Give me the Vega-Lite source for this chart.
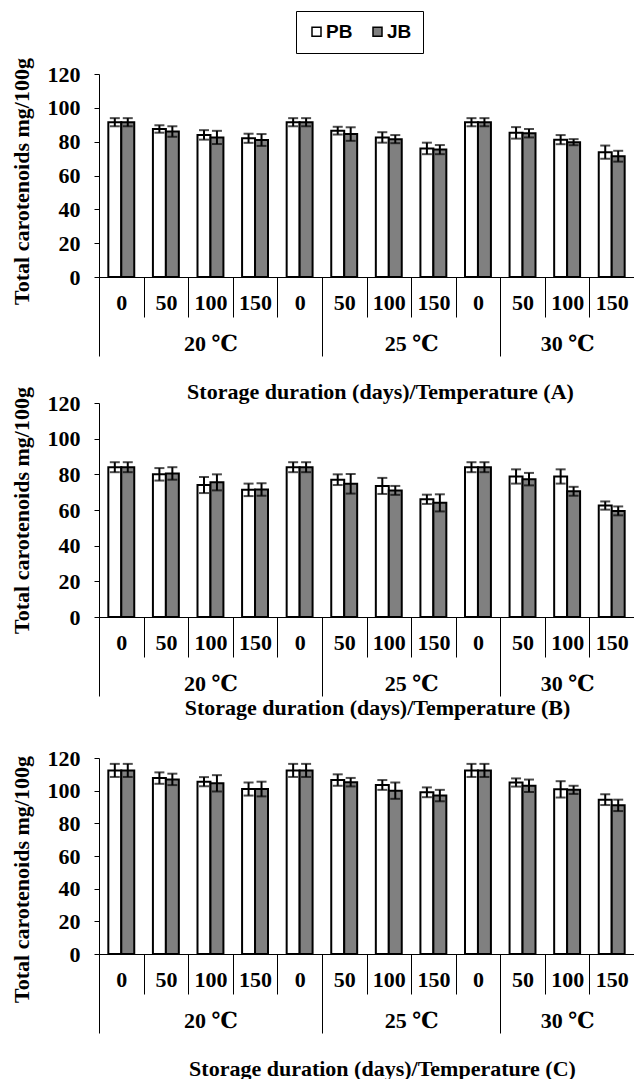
{
  "$schema": "https://vega.github.io/schema/vega-lite/v6.json",
  "padding": {"left": 9, "top": 10, "right": 0, "bottom": 0},
  "background": "white",
  "config": {
    "view": {"stroke": null},
    "axis": {
      "labelFont": "Liberation Serif, DejaVu Serif", "labelFontWeight": "bold", "labelFontSize": 22, "labelColor": "black",
      "titleFont": "Liberation Serif", "titleFontWeight": "bold", "titleFontSize": 22, "titleColor": "black",
      "domainColor": "black", "tickColor": "black", "grid": false, "labelOverlap": false
    },
    "axisY": {"labelOverlap": false, "labelSeparation": 0}
  },
  "datasets": {
    "A": [
      {"cat": "20 ℃|0", "series": "PB", "value": 91.5, "lo": 89.1, "hi": 93.9},
      {"cat": "20 ℃|0", "series": "JB", "value": 91.5, "lo": 89.1, "hi": 93.9},
      {"cat": "20 ℃|50", "series": "PB", "value": 87.5, "lo": 85.3, "hi": 89.7},
      {"cat": "20 ℃|50", "series": "JB", "value": 86, "lo": 82.9, "hi": 89.1},
      {"cat": "20 ℃|100", "series": "PB", "value": 84, "lo": 81.2, "hi": 86.8},
      {"cat": "20 ℃|100", "series": "JB", "value": 82.5, "lo": 78.6, "hi": 86.4},
      {"cat": "20 ℃|150", "series": "PB", "value": 82, "lo": 79.3, "hi": 84.7},
      {"cat": "20 ℃|150", "series": "JB", "value": 81, "lo": 77.5, "hi": 84.5},
      {"cat": "25 ℃|0", "series": "PB", "value": 91.5, "lo": 89.1, "hi": 93.9},
      {"cat": "25 ℃|0", "series": "JB", "value": 91.5, "lo": 89.1, "hi": 93.9},
      {"cat": "25 ℃|50", "series": "PB", "value": 86.5, "lo": 84.2, "hi": 88.8},
      {"cat": "25 ℃|50", "series": "JB", "value": 84.5, "lo": 80.5, "hi": 88.5},
      {"cat": "25 ℃|100", "series": "PB", "value": 82.5, "lo": 79.4, "hi": 85.6},
      {"cat": "25 ℃|100", "series": "JB", "value": 81.5, "lo": 79.1, "hi": 83.9},
      {"cat": "25 ℃|150", "series": "PB", "value": 76, "lo": 72.6, "hi": 79.4},
      {"cat": "25 ℃|150", "series": "JB", "value": 75.3, "lo": 72.6, "hi": 78},
      {"cat": "30 ℃|0", "series": "PB", "value": 91.5, "lo": 89.1, "hi": 93.9},
      {"cat": "30 ℃|0", "series": "JB", "value": 91.5, "lo": 89.1, "hi": 93.9},
      {"cat": "30 ℃|50", "series": "PB", "value": 85.2, "lo": 81.8, "hi": 88.6},
      {"cat": "30 ℃|50", "series": "JB", "value": 85, "lo": 82.5, "hi": 87.5},
      {"cat": "30 ℃|100", "series": "PB", "value": 81.2, "lo": 78.5, "hi": 83.9},
      {"cat": "30 ℃|100", "series": "JB", "value": 79.7, "lo": 77.9, "hi": 81.5},
      {"cat": "30 ℃|150", "series": "PB", "value": 73.8, "lo": 69.9, "hi": 77.7},
      {"cat": "30 ℃|150", "series": "JB", "value": 71.4, "lo": 68.2, "hi": 74.6}
    ],
    "B": [
      {"cat": "20 ℃|0", "series": "PB", "value": 84, "lo": 81.2, "hi": 86.8},
      {"cat": "20 ℃|0", "series": "JB", "value": 84, "lo": 81.2, "hi": 86.8},
      {"cat": "20 ℃|50", "series": "PB", "value": 80, "lo": 76.5, "hi": 83.5},
      {"cat": "20 ℃|50", "series": "JB", "value": 80.5, "lo": 77, "hi": 84},
      {"cat": "20 ℃|100", "series": "PB", "value": 74, "lo": 69.5, "hi": 78.5},
      {"cat": "20 ℃|100", "series": "JB", "value": 75.5, "lo": 71, "hi": 80},
      {"cat": "20 ℃|150", "series": "PB", "value": 71.3, "lo": 67.8, "hi": 74.8},
      {"cat": "20 ℃|150", "series": "JB", "value": 71.5, "lo": 68, "hi": 75},
      {"cat": "25 ℃|0", "series": "PB", "value": 84, "lo": 81.2, "hi": 86.8},
      {"cat": "25 ℃|0", "series": "JB", "value": 84, "lo": 81.2, "hi": 86.8},
      {"cat": "25 ℃|50", "series": "PB", "value": 77, "lo": 74, "hi": 80},
      {"cat": "25 ℃|50", "series": "JB", "value": 74.7, "lo": 69.2, "hi": 80.2},
      {"cat": "25 ℃|100", "series": "PB", "value": 73.5, "lo": 69, "hi": 78},
      {"cat": "25 ℃|100", "series": "JB", "value": 71, "lo": 68.5, "hi": 73.5},
      {"cat": "25 ℃|150", "series": "PB", "value": 66, "lo": 63.4, "hi": 68.6},
      {"cat": "25 ℃|150", "series": "JB", "value": 64, "lo": 59.2, "hi": 68.8},
      {"cat": "30 ℃|0", "series": "PB", "value": 84, "lo": 81.2, "hi": 86.8},
      {"cat": "30 ℃|0", "series": "JB", "value": 84, "lo": 81.2, "hi": 86.8},
      {"cat": "30 ℃|50", "series": "PB", "value": 78.8, "lo": 74.8, "hi": 82.8},
      {"cat": "30 ℃|50", "series": "JB", "value": 77.3, "lo": 73.8, "hi": 80.8},
      {"cat": "30 ℃|100", "series": "PB", "value": 78.8, "lo": 74.8, "hi": 82.8},
      {"cat": "30 ℃|100", "series": "JB", "value": 70.5, "lo": 68, "hi": 73},
      {"cat": "30 ℃|150", "series": "PB", "value": 62.5, "lo": 60.2, "hi": 64.8},
      {"cat": "30 ℃|150", "series": "JB", "value": 59.5, "lo": 57, "hi": 62}
    ],
    "C": [
      {"cat": "20 ℃|0", "series": "PB", "value": 112.4, "lo": 108.4, "hi": 116.4},
      {"cat": "20 ℃|0", "series": "JB", "value": 112.4, "lo": 108.4, "hi": 116.4},
      {"cat": "20 ℃|50", "series": "PB", "value": 107.7, "lo": 104.2, "hi": 111.2},
      {"cat": "20 ℃|50", "series": "JB", "value": 106.9, "lo": 103.4, "hi": 110.4},
      {"cat": "20 ℃|100", "series": "PB", "value": 105.5, "lo": 102.7, "hi": 108.3},
      {"cat": "20 ℃|100", "series": "JB", "value": 104.5, "lo": 99.5, "hi": 109.5},
      {"cat": "20 ℃|150", "series": "PB", "value": 101, "lo": 97, "hi": 105},
      {"cat": "20 ℃|150", "series": "JB", "value": 101, "lo": 96.5, "hi": 105.5},
      {"cat": "25 ℃|0", "series": "PB", "value": 112.4, "lo": 108.4, "hi": 116.4},
      {"cat": "25 ℃|0", "series": "JB", "value": 112.4, "lo": 108.4, "hi": 116.4},
      {"cat": "25 ℃|50", "series": "PB", "value": 106.5, "lo": 103, "hi": 110},
      {"cat": "25 ℃|50", "series": "JB", "value": 105.2, "lo": 102.6, "hi": 107.8},
      {"cat": "25 ℃|100", "series": "PB", "value": 103.5, "lo": 100.5, "hi": 106.5},
      {"cat": "25 ℃|100", "series": "JB", "value": 100, "lo": 95, "hi": 105},
      {"cat": "25 ℃|150", "series": "PB", "value": 99, "lo": 96, "hi": 102},
      {"cat": "25 ℃|150", "series": "JB", "value": 97, "lo": 93.5, "hi": 100.5},
      {"cat": "30 ℃|0", "series": "PB", "value": 112.4, "lo": 108.4, "hi": 116.4},
      {"cat": "30 ℃|0", "series": "JB", "value": 112.4, "lo": 108.4, "hi": 116.4},
      {"cat": "30 ℃|50", "series": "PB", "value": 105, "lo": 102.5, "hi": 107.5},
      {"cat": "30 ℃|50", "series": "JB", "value": 103, "lo": 99.2, "hi": 106.8},
      {"cat": "30 ℃|100", "series": "PB", "value": 100.8, "lo": 95.8, "hi": 105.8},
      {"cat": "30 ℃|100", "series": "JB", "value": 100.5, "lo": 98, "hi": 103},
      {"cat": "30 ℃|150", "series": "PB", "value": 94.5, "lo": 91.2, "hi": 97.8},
      {"cat": "30 ℃|150", "series": "JB", "value": 91, "lo": 87.5, "hi": 94.5}
    ]
  },
  "spacing": -17,
  "vconcat": [
    {
      "data": {"name": "A"},
      "width": 535, "height": 203,
      "resolve": {"axis": {"x": "independent"}},
      "layer": [
        {
          "mark": {"type": "bar", "stroke": "black", "strokeWidth": 2},
          "encoding": {
            "x": {"field": "cat", "type": "nominal", "sort": null, "scale": {"paddingInner": 0, "paddingOuter": 0},
              "axis": {"orient": "bottom", "tickBand": "extent", "tickSize": 40, "labelExpr": "split(datum.value,'|')[1]", "labelAngle": 0, "labelPadding": -25, "labelOverlap": false, "title": null}},
            "xOffset": {"field": "series", "type": "nominal", "sort": ["PB", "JB"], "scale": {"paddingInner": 0, "paddingOuter": 0.72}},
            "y": {"field": "value", "type": "quantitative", "scale": {"domain": [0, 120]},
              "axis": {"values": [0, 20, 40, 60, 80, 100, 120], "tickCount": 7, "labelOverlap": false, "tickSize": 5, "labelPadding": 14, "title": "Total carotenoids mg/100g", "titlePadding": 14, "titleY": 107}},
            "fill": {"field": "series", "type": "nominal", "sort": ["PB", "JB"], "scale": {"domain": ["PB", "JB"], "range": ["#ffffff", "#808080"]},
              "legend": {"orient": "none", "legendX": 197, "legendY": -63, "direction": "horizontal", "title": null, "symbolType": "square", "symbolSize": 81, "symbolStrokeColor": "black", "symbolStrokeWidth": 1.5, "labelFont": "Liberation Sans", "labelFontWeight": "bold", "labelFontSize": 19, "labelColor": "black", "strokeColor": "black", "padding": 11, "columnPadding": 15, "labelOffset": 0}}
          }
        },
        {
          "mark": {"type": "rule", "color": "black", "strokeWidth": 2},
          "encoding": {
            "x": {"field": "cat", "type": "nominal", "sort": null,
              "axis": {"orient": "bottom", "tickBand": "extent", "tickSize": 79, "domain": false,
                "tickColor": {"condition": {"test": "datum.extra || datum.value == '25 ℃|0' || datum.value == '30 ℃|0'", "value": "black"}, "value": "transparent"},
                "labelExpr": "datum.value == '20 ℃|100' ? '20 ℃' : datum.value == '25 ℃|100' ? '25 ℃' : datum.value == '30 ℃|100' ? '30 ℃' : ''",
                "labelOffset": {"condition": {"test": "datum.value == '25 ℃|100'", "value": 22.3}, "value": 0},
                "labelAngle": 0, "labelPadding": -23, "labelOverlap": false,
                "title": "Storage duration (days)/Temperature (A)", "titlePadding": 25, "titleX": 281}},
            "xOffset": {"field": "series", "type": "nominal", "sort": ["PB", "JB"]},
            "y": {"field": "lo", "type": "quantitative"},
            "y2": {"field": "hi"}
          }
        },
        {
          "mark": {"type": "tick", "color": "black", "thickness": 2, "size": 10},
          "encoding": {
            "x": {"field": "cat", "type": "nominal", "sort": null, "axis": null},
            "xOffset": {"field": "series", "type": "nominal", "sort": ["PB", "JB"]},
            "y": {"field": "hi", "type": "quantitative"}
          }
        },
        {
          "mark": {"type": "tick", "color": "black", "thickness": 2, "size": 10},
          "encoding": {
            "x": {"field": "cat", "type": "nominal", "sort": null, "axis": null},
            "xOffset": {"field": "series", "type": "nominal", "sort": ["PB", "JB"]},
            "y": {"field": "lo", "type": "quantitative"}
          }
        }
      ]
    },
    {
      "spacing": 28,
      "vconcat": [
        {
          "data": {"name": "B"},
          "width": 535, "height": 214,
          "resolve": {"axis": {"x": "independent"}},
          "layer": [
            {
              "mark": {"type": "bar", "stroke": "black", "strokeWidth": 2},
              "encoding": {
                "x": {"field": "cat", "type": "nominal", "sort": null, "scale": {"paddingInner": 0, "paddingOuter": 0},
                  "axis": {"orient": "bottom", "tickBand": "extent", "tickSize": 40, "labelExpr": "split(datum.value,'|')[1]", "labelAngle": 0, "labelPadding": -25, "labelOverlap": false, "title": null}},
                "xOffset": {"field": "series", "type": "nominal", "sort": ["PB", "JB"], "scale": {"paddingInner": 0, "paddingOuter": 0.72}},
                "y": {"field": "value", "type": "quantitative", "scale": {"domain": [0, 120]},
                  "axis": {"values": [0, 20, 40, 60, 80, 100, 120], "tickCount": 7, "labelOverlap": false, "tickSize": 5, "labelPadding": 14, "title": "Total carotenoids mg/100g", "titlePadding": 14}},
                "fill": {"field": "series", "type": "nominal", "sort": ["PB", "JB"], "scale": {"domain": ["PB", "JB"], "range": ["#ffffff", "#808080"]},
                  "legend": {"orient": "none", "legendX": 197, "legendY": -63, "direction": "horizontal", "title": null, "symbolType": "square", "symbolSize": 81, "symbolStrokeColor": "black", "symbolStrokeWidth": 1.5, "labelFont": "Liberation Sans", "labelFontWeight": "bold", "labelFontSize": 19, "labelColor": "black", "strokeColor": "black", "padding": 11, "columnPadding": 15, "labelOffset": 0}}
              }
            },
            {
              "mark": {"type": "rule", "color": "black", "strokeWidth": 2},
              "encoding": {
                "x": {"field": "cat", "type": "nominal", "sort": null,
                  "axis": {"orient": "bottom", "tickBand": "extent", "tickSize": 79, "domain": false,
                    "tickColor": {"condition": {"test": "datum.extra || datum.value == '25 ℃|0' || datum.value == '30 ℃|0'", "value": "black"}, "value": "transparent"},
                    "labelExpr": "datum.value == '20 ℃|100' ? '20 ℃' : datum.value == '25 ℃|100' ? '25 ℃' : datum.value == '30 ℃|100' ? '30 ℃' : ''",
                    "labelOffset": {"condition": {"test": "datum.value == '25 ℃|100'", "value": 22.3}, "value": 0},
                    "labelAngle": 0, "labelPadding": -23, "labelOverlap": false,
                    "title": "Storage duration (days)/Temperature (B)", "titlePadding": 1, "titleX": 278}},
                "xOffset": {"field": "series", "type": "nominal", "sort": ["PB", "JB"]},
                "y": {"field": "lo", "type": "quantitative"},
                "y2": {"field": "hi"}
              }
            },
            {
              "mark": {"type": "tick", "color": "black", "thickness": 2, "size": 10},
              "encoding": {
                "x": {"field": "cat", "type": "nominal", "sort": null, "axis": null},
                "xOffset": {"field": "series", "type": "nominal", "sort": ["PB", "JB"]},
                "y": {"field": "hi", "type": "quantitative"}
              }
            },
            {
              "mark": {"type": "tick", "color": "black", "thickness": 2, "size": 10},
              "encoding": {
                "x": {"field": "cat", "type": "nominal", "sort": null, "axis": null},
                "xOffset": {"field": "series", "type": "nominal", "sort": ["PB", "JB"]},
                "y": {"field": "lo", "type": "quantitative"}
              }
            }
          ]
        },
        {
          "data": {"name": "C"},
          "width": 535, "height": 196,
          "resolve": {"axis": {"x": "independent"}},
          "layer": [
            {
              "mark": {"type": "bar", "stroke": "black", "strokeWidth": 2},
              "encoding": {
                "x": {"field": "cat", "type": "nominal", "sort": null, "scale": {"paddingInner": 0, "paddingOuter": 0},
                  "axis": {"orient": "bottom", "tickBand": "extent", "tickSize": 40, "labelExpr": "split(datum.value,'|')[1]", "labelAngle": 0, "labelPadding": -25, "labelOverlap": false, "title": null}},
                "xOffset": {"field": "series", "type": "nominal", "sort": ["PB", "JB"], "scale": {"paddingInner": 0, "paddingOuter": 0.72}},
                "y": {"field": "value", "type": "quantitative", "scale": {"domain": [0, 120]},
                  "axis": {"values": [0, 20, 40, 60, 80, 100, 120], "tickCount": 7, "labelOverlap": false, "tickSize": 5, "labelPadding": 14, "title": "Total carotenoids mg/100g", "titlePadding": 14, "titleY": 121}},
                "fill": {"field": "series", "type": "nominal", "sort": ["PB", "JB"], "scale": {"domain": ["PB", "JB"], "range": ["#ffffff", "#808080"]},
                  "legend": {"orient": "none", "legendX": 197, "legendY": -63, "direction": "horizontal", "title": null, "symbolType": "square", "symbolSize": 81, "symbolStrokeColor": "black", "symbolStrokeWidth": 1.5, "labelFont": "Liberation Sans", "labelFontWeight": "bold", "labelFontSize": 19, "labelColor": "black", "strokeColor": "black", "padding": 11, "columnPadding": 15, "labelOffset": 0}}
              }
            },
            {
              "mark": {"type": "rule", "color": "black", "strokeWidth": 2},
              "encoding": {
                "x": {"field": "cat", "type": "nominal", "sort": null,
                  "axis": {"orient": "bottom", "tickBand": "extent", "tickSize": 79, "domain": false,
                    "tickColor": {"condition": {"test": "datum.extra || datum.value == '25 ℃|0' || datum.value == '30 ℃|0'", "value": "black"}, "value": "transparent"},
                    "labelExpr": "datum.value == '20 ℃|100' ? '20 ℃' : datum.value == '25 ℃|100' ? '25 ℃' : datum.value == '30 ℃|100' ? '30 ℃' : ''",
                    "labelOffset": {"condition": {"test": "datum.value == '25 ℃|100'", "value": 22.3}, "value": 0},
                    "labelAngle": 0, "labelPadding": -23, "labelOverlap": false,
                    "title": "Storage duration (days)/Temperature (C)", "titlePadding": 25, "titleX": 283}},
                "xOffset": {"field": "series", "type": "nominal", "sort": ["PB", "JB"]},
                "y": {"field": "lo", "type": "quantitative"},
                "y2": {"field": "hi"}
              }
            },
            {
              "mark": {"type": "tick", "color": "black", "thickness": 2, "size": 10},
              "encoding": {
                "x": {"field": "cat", "type": "nominal", "sort": null, "axis": null},
                "xOffset": {"field": "series", "type": "nominal", "sort": ["PB", "JB"]},
                "y": {"field": "hi", "type": "quantitative"}
              }
            },
            {
              "mark": {"type": "tick", "color": "black", "thickness": 2, "size": 10},
              "encoding": {
                "x": {"field": "cat", "type": "nominal", "sort": null, "axis": null},
                "xOffset": {"field": "series", "type": "nominal", "sort": ["PB", "JB"]},
                "y": {"field": "lo", "type": "quantitative"}
              }
            }
          ]
        }
      ]
    }
  ]
}
